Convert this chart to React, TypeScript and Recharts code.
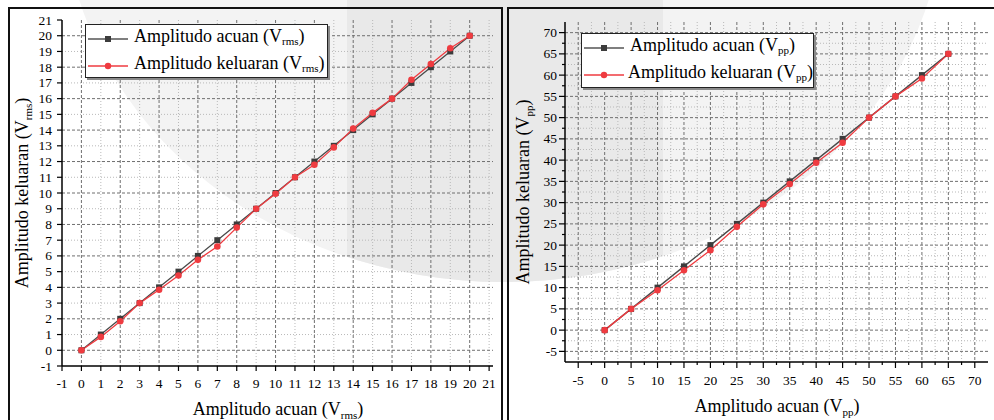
import { CartesianGrid, Line, LineChart, XAxis, YAxis } from 'recharts';

// V rms measurement
const rmsInput = [0, 1, 2, 3, 4, 5, 6, 7, 8, 9, 10, 11, 12, 13, 14, 15, 16, 17, 18, 19, 20];
const rmsAcuan = [0, 1, 2, 3, 4, 5, 6, 7, 8, 9, 10, 11, 12, 13, 14, 15, 16, 17, 18, 19, 20];
const rmsKeluaran = [0, 0.85, 1.85, 3.0, 3.85, 4.75, 5.75, 6.6, 7.8, 9.0, 9.95, 11.0, 11.8, 12.9, 14.1, 15.1, 16.0, 17.2, 18.2, 19.2, 20.0];
const rmsTicks = [-1, 0, 1, 2, 3, 4, 5, 6, 7, 8, 9, 10, 11, 12, 13, 14, 15, 16, 17, 18, 19, 20, 21];
const rmsMajorGrid = [0, 2, 4, 6, 8, 10, 12, 14, 16, 18, 20];
const rmsMinorGridX = [1, 3, 5, 7, 9, 11, 13, 15, 17, 19, 21];
const rmsMinorGridY = [1, 3, 5, 7, 9, 11, 13, 15, 17, 19];

// V pp measurement
const ppInput = [0, 5, 10, 15, 20, 25, 30, 35, 40, 45, 50, 55, 60, 65];
const ppAcuan = [0, 5, 10, 15, 20, 25, 30, 35, 40, 45, 50, 55, 60, 65];
const ppKeluaran = [0, 5, 9.4, 14.1, 18.8, 24.3, 29.6, 34.4, 39.4, 44.1, 50, 55, 59.2, 65];
const ppTicks = [-5, -2.5, 0, 2.5, 5, 7.5, 10, 12.5, 15, 17.5, 20, 22.5, 25, 27.5, 30, 32.5, 35, 37.5, 40, 42.5, 45, 47.5, 50, 52.5, 55, 57.5, 60, 62.5, 65, 67.5, 70];
const ppMajorGrid = [-5, 0, 5, 10, 15, 20, 25, 30, 35, 40, 45, 50, 55, 60, 65, 70];
const ppMinorGrid = [-2.5, 2.5, 7.5, 12.5, 17.5, 22.5, 27.5, 32.5, 37.5, 42.5, 47.5, 52.5, 57.5, 62.5, 67.5];

const FONT = "'Liberation Serif', 'Times New Roman', serif";
const BLACK = '#3c3c3c';
const RED = '#ef3b40';

const rmsRows = rmsInput.map((x, i) => ({ x, acuan: rmsAcuan[i], keluaran: rmsKeluaran[i] }));
const ppRows = ppInput.map((x, i) => ({ x, acuan: ppAcuan[i], keluaran: ppKeluaran[i] }));

const SquareDot = (p: any) =>
  p.cx == null ? null : <rect key={`s-${p.index}`} x={p.cx - 3} y={p.cy - 3} width={6} height={6} fill={BLACK} />;
const RoundDot = (p: any) =>
  p.cx == null ? null : <circle key={`c-${p.index}`} cx={p.cx} cy={p.cy} r={3.3} fill={RED} />;

// tick mark + label drawn by hand so minor ticks can be shorter and unlabelled
function makeXTick(step: number, majorLen: number, minorLen: number, dy: number) {
  return (p: any) => {
    const v = p.payload.value;
    const major = Math.abs(v / step - Math.round(v / step)) < 1e-6;
    return (
      <g>
        <line x1={p.x} x2={p.x} y1={p.y} y2={p.y + (major ? majorLen : minorLen)} stroke="#000" strokeWidth={1.2} />
        {major && (
          <text x={p.x} y={p.y + dy} textAnchor="middle" fontFamily={FONT} fontSize={13.5} fill="#000">
            {v}
          </text>
        )}
      </g>
    );
  };
}

function makeYTick(step: number, majorLen: number, minorLen: number, gap: number) {
  return (p: any) => {
    const v = p.payload.value;
    const major = Math.abs(v / step - Math.round(v / step)) < 1e-6;
    return (
      <g>
        <line x1={p.x - (major ? majorLen : minorLen)} x2={p.x} y1={p.y} y2={p.y} stroke="#000" strokeWidth={1.2} />
        {major && (
          <text x={p.x - gap} y={p.y + 4.5} textAnchor="end" fontFamily={FONT} fontSize={13.5} fill="#000">
            {v}
          </text>
        )}
      </g>
    );
  };
}

function LegendBox({ left, top, width, height, unit }: { left: number; top: number; width: number; height: number; unit: string }) {
  const row = (color: string, square: boolean, label: string) => (
    <div style={{ display: 'flex', alignItems: 'center', height: 27 }}>
      <svg width={44} height={12} style={{ marginRight: 4 }}>
        <line x1={2} x2={42} y1={6} y2={6} stroke={color} strokeWidth={1.4} />
        {square ? <rect x={19} y={3} width={6} height={6} fill={BLACK} /> : <circle cx={22} cy={6} r={3.2} fill={RED} />}
      </svg>
      <span>
        {label} (V<sub style={{ fontSize: 11, verticalAlign: -3 }}>{unit}</sub>)
      </span>
    </div>
  );
  return (
    <div
      style={{
        position: 'absolute',
        left,
        top,
        width,
        height,
        boxSizing: 'border-box',
        border: '1.5px solid #222',
        boxShadow: '2px 2px 0 #8a8a8a',
        background: '#fff',
        fontFamily: FONT,
        fontSize: 18,
        lineHeight: '18px',
        paddingTop: 0,
        color: '#000',
        whiteSpace: 'nowrap',
      }}
    >
      {row('#555', true, 'Amplitudo acuan')}
      {row(RED, false, 'Amplitudo keluaran')}
    </div>
  );
}

function Title({ x, y, rotate, text, unit }: { x: number; y: number; rotate?: boolean; text: string; unit: string }) {
  return (
    <text
      x={x}
      y={y}
      textAnchor="middle"
      fontFamily={FONT}
      fontSize={18}
      fill="#000"
      transform={rotate ? `rotate(-90 ${x} ${y})` : undefined}
    >
      {text} (V
      <tspan fontSize={11} dy={4}>
        {unit}
      </tspan>
      <tspan dy={-4}>)</tspan>
    </text>
  );
}

export default function App() {
  return (
    <div style={{ position: 'absolute', left: 0, top: 0, width: 994, height: 420, overflow: 'hidden', background: '#fff' }}>
      {/* faint watermark behind both figures */}
      <svg width={994} height={420} style={{ position: 'absolute', left: 0, top: 0 }}>
        <defs>
          <clipPath id="wm">
            <ellipse cx={504} cy={-100} rx={440} ry={382} />
          </clipPath>
        </defs>
        <ellipse cx={504} cy={-100} rx={440} ry={382} fill="#f3f3f3" />
        <rect x={347} y={0} width={316} height={420} fill="#e9e9e9" clipPath="url(#wm)" />
      </svg>

      {/* panel frames */}
      <div style={{ position: 'absolute', left: 8, top: 7, width: 495, height: 430, boxSizing: 'border-box', border: '2px solid #111' }} />
      <div style={{ position: 'absolute', left: 507, top: 7, width: 495, height: 430, boxSizing: 'border-box', border: '2px solid #111' }} />

      <div style={{ position: 'absolute', left: 0, top: 0 }}>
        <LineChart width={505} height={420} data={rmsRows} margin={{ top: 20, right: 12, bottom: 24, left: 2 }}>
          <CartesianGrid horizontalValues={rmsMinorGridY} verticalValues={rmsMinorGridX} stroke="#b9b9b9" strokeDasharray="1 2" />
          <CartesianGrid horizontalValues={rmsMajorGrid} verticalValues={rmsMajorGrid} stroke="#6f6f6f" strokeDasharray="3 2" />
          <XAxis
            type="number"
            dataKey="x"
            domain={[-1, 21.2]}
            ticks={rmsTicks}
            interval={0}
            allowDataOverflow
            height={30}
            tickSize={0}
            tickMargin={0}
            tickLine={false}
            axisLine={{ stroke: '#000', strokeWidth: 1.5 }}
            tick={makeXTick(1, 5, 3, 22)}
          />
          <YAxis
            type="number"
            domain={[-1, 21]}
            ticks={rmsTicks}
            interval={0}
            allowDataOverflow
            width={60}
            tickSize={0}
            tickMargin={0}
            tickLine={false}
            axisLine={{ stroke: '#000', strokeWidth: 1.5 }}
            tick={makeYTick(1, 5, 3, 10)}
          />
          <Line dataKey="acuan" stroke="#4a4a4a" strokeWidth={1.3} dot={SquareDot} isAnimationActive={false} />
          <Line dataKey="keluaran" stroke={RED} strokeWidth={1.3} dot={RoundDot} isAnimationActive={false} />
        </LineChart>
      </div>

      <div style={{ position: 'absolute', left: 505, top: 0 }}>
        <LineChart width={489} height={420} data={ppRows} margin={{ top: 22, right: 6, bottom: 28, left: 10 }}>
          <CartesianGrid horizontalValues={ppMinorGrid} verticalValues={ppMinorGrid} stroke="#b9b9b9" strokeDasharray="1 2" />
          <CartesianGrid horizontalValues={ppMajorGrid} verticalValues={ppMajorGrid} stroke="#6f6f6f" strokeDasharray="3 2" />
          <XAxis
            type="number"
            dataKey="x"
            domain={[-7.5, 72.5]}
            ticks={ppTicks}
            interval={0}
            allowDataOverflow
            height={30}
            tickSize={0}
            tickMargin={0}
            tickLine={false}
            axisLine={{ stroke: '#000', strokeWidth: 1.5 }}
            tick={makeXTick(5, 6, 3, 23)}
          />
          <YAxis
            type="number"
            domain={[-7.5, 72.5]}
            ticks={ppTicks}
            interval={0}
            allowDataOverflow
            width={50}
            tickSize={0}
            tickMargin={0}
            tickLine={false}
            axisLine={{ stroke: '#000', strokeWidth: 1.5 }}
            tick={makeYTick(5, 6, 3, 8)}
          />
          <Line dataKey="acuan" stroke="#4a4a4a" strokeWidth={1.3} dot={SquareDot} isAnimationActive={false} />
          <Line dataKey="keluaran" stroke={RED} strokeWidth={1.3} dot={RoundDot} isAnimationActive={false} />
        </LineChart>
      </div>

      <svg width={994} height={420} style={{ position: 'absolute', left: 0, top: 0, pointerEvents: 'none' }}>
        <Title x={278} y={415} text="Amplitudo acuan" unit="rms" />
        <Title x={27.5} y={193} rotate text="Amplitudo keluaran" unit="rms" />
        <Title x={777} y={412} text="Amplitudo acuan" unit="pp" />
        <Title x={529} y={192} rotate text="Amplitudo keluaran" unit="pp" />
      </svg>

      <LegendBox left={85} top={24} width={243} height={54} unit="rms" />
      <LegendBox left={581} top={33} width={233} height={55} unit="pp" />
    </div>
  );
}
